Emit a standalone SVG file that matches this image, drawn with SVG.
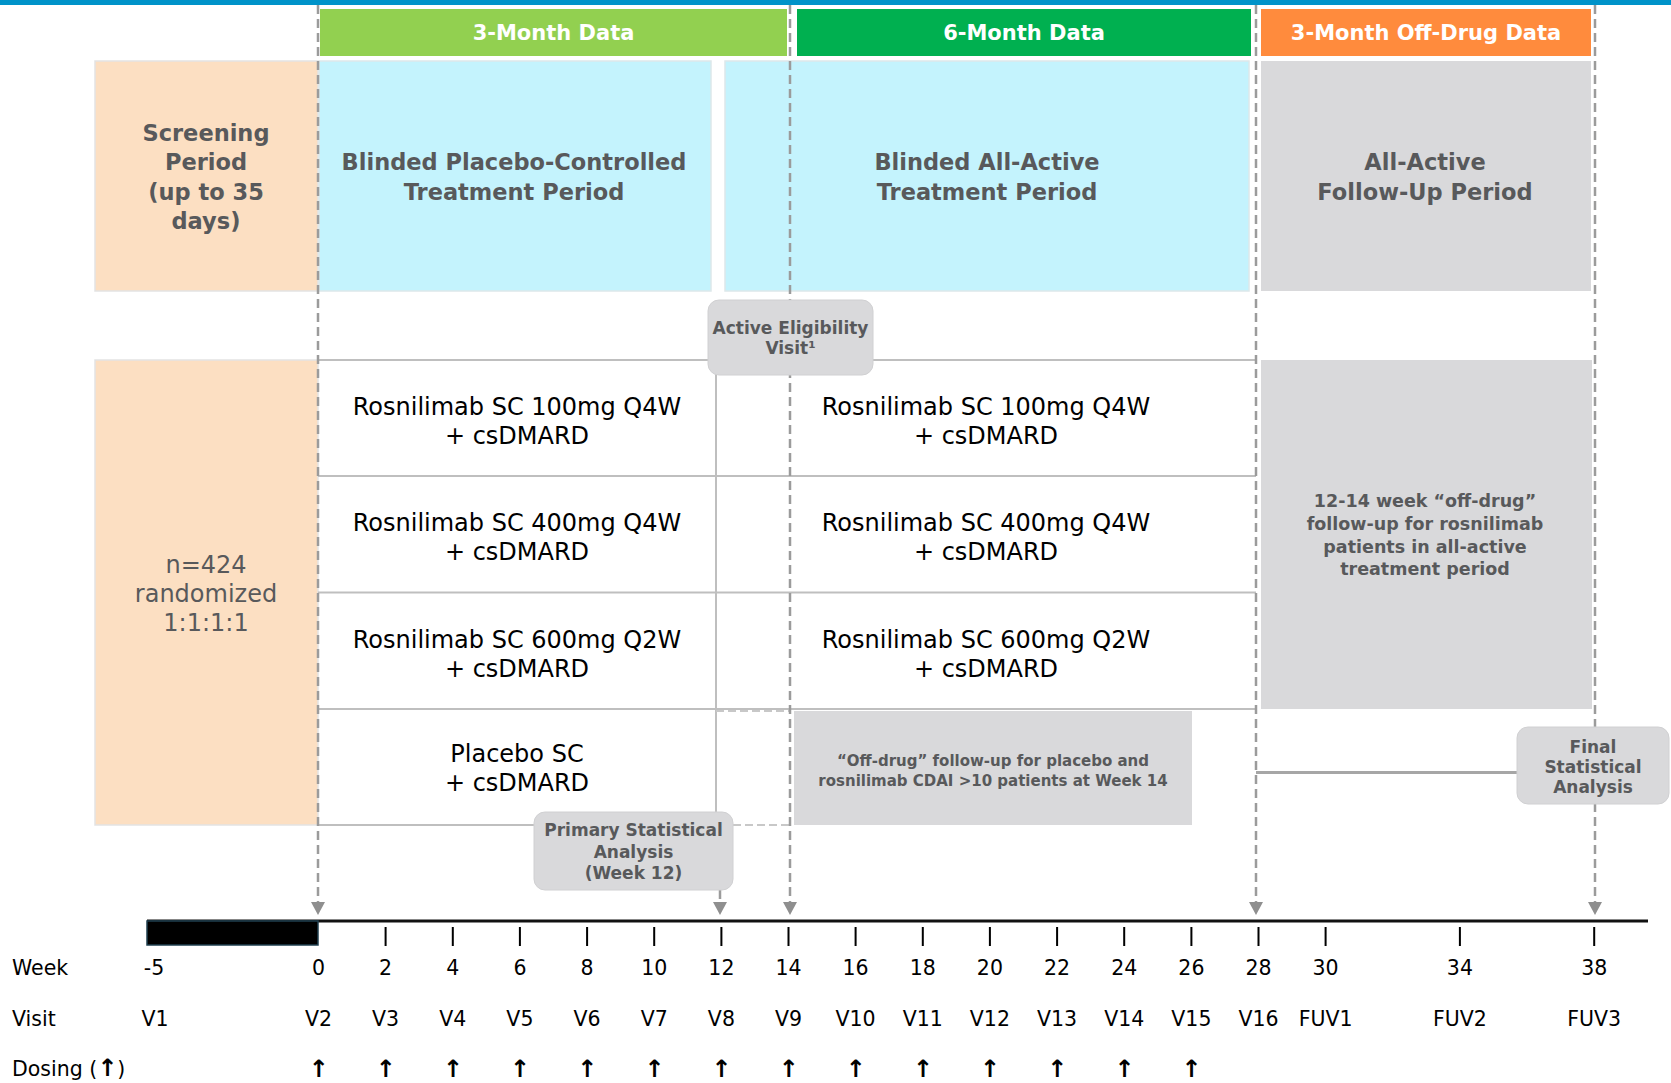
<svg xmlns="http://www.w3.org/2000/svg" width="1671" height="1083" viewBox="0 0 1671 1083">
<style>
text{font-family:"DejaVu Sans",Verdana,sans-serif}
.hdr{font-weight:bold;font-size:21px;fill:#fff;text-anchor:middle}
.per{font-weight:bold;font-size:22.5px;fill:#58595B;text-anchor:middle}
.arm{font-size:24px;fill:#000;text-anchor:middle}
.nrand{font-size:24px;fill:#58595B;text-anchor:middle}
.call{font-weight:bold;font-size:17px;fill:#58595B;text-anchor:middle}
.off{font-weight:bold;font-size:15px;fill:#58595B;text-anchor:middle}
.tl{font-size:20.5px;fill:#000}
.tc{text-anchor:middle}
.dose{font-size:24px;font-weight:bold;fill:#000}
.dash{stroke:#9B9B9B;stroke-width:2.5;stroke-dasharray:9 5;fill:none}
.row{stroke:#BFBFBF;stroke-width:2;fill:none}
.tick{stroke:#000;stroke-width:2}
.peach{fill:#FCDFC2;stroke:#E3E3E3;stroke-width:1.5}
.cyan{fill:#C4F3FD;stroke:#DDE8EA;stroke-width:1.5}
.grey{fill:#D9D9DB}
.callbox{fill:#D9D9DB;stroke:#D0D0D2;stroke-width:1}
</style>
<defs>
<marker id="tri" markerUnits="userSpaceOnUse" viewBox="0 0 14 13" refX="7" refY="0" markerWidth="14" markerHeight="13" orient="0">
<path d="M0,0 L14,0 L7,13 Z" fill="#8F8F8F"/>
</marker>
</defs>
<rect x="0" y="0" width="1671" height="5" fill="#0093C9"/>

<g id="hdr-3m"><rect x="320" y="9" width="467" height="47" fill="#92D050"/><text class="hdr" x="553.5" y="40">3-Month Data</text></g>
<g id="hdr-6m"><rect x="797" y="9" width="454" height="47" fill="#00B050"/><text class="hdr" x="1024" y="40">6-Month Data</text></g>
<g id="hdr-off"><rect x="1261" y="9" width="330" height="47" fill="#FF8B3D"/><text class="hdr" x="1426" y="40">3-Month Off-Drug Data</text></g>

<g id="screening"><rect class="peach" x="95" y="61" width="223" height="230"/>
<text class="per" x="206"><tspan x="206" y="141">Screening</tspan><tspan x="206" y="170">Period</tspan><tspan x="206" y="200">(up to 35</tspan><tspan x="206" y="229">days)</tspan></text></g>
<g id="blinded-pc"><rect class="cyan" x="319" y="61" width="392" height="230"/>
<text class="per"><tspan x="514" y="170">Blinded Placebo-Controlled</tspan><tspan x="514" y="200">Treatment Period</tspan></text></g>
<g id="blinded-aa"><rect class="cyan" x="725" y="61" width="524" height="230"/>
<text class="per"><tspan x="987" y="170">Blinded All-Active</tspan><tspan x="987" y="200">Treatment Period</tspan></text></g>
<g id="followup"><rect class="grey" x="1261" y="61" width="330" height="230"/>
<text class="per"><tspan x="1425" y="170">All-Active</tspan><tspan x="1425" y="200">Follow-Up Period</tspan></text></g>

<g id="randomized"><rect class="peach" x="95" y="360" width="223" height="465"/>
<text class="nrand"><tspan x="206" y="573">n=424</tspan><tspan x="206" y="602">randomized</tspan><tspan x="206" y="631">1:1:1:1</tspan></text></g>

<g id="grid">
<path class="row" d="M318,360 H1256 M318,476 H1256 M318,592.5 H1256 M318,709 H1256 M318,825 H540 M716,360 V812"/>
<path d="M716,711 H790 M733,825 H790" stroke="#C8C8C8" stroke-width="2" stroke-dasharray="8 4" fill="none"/>
</g>

<g id="arm-100-a"><text class="arm"><tspan x="517" y="415">Rosnilimab SC 100mg Q4W</tspan><tspan x="517" y="444">+ csDMARD</tspan></text></g>
<g id="arm-400-a"><text class="arm"><tspan x="517" y="531">Rosnilimab SC 400mg Q4W</tspan><tspan x="517" y="560">+ csDMARD</tspan></text></g>
<g id="arm-600-a"><text class="arm"><tspan x="517" y="647.5">Rosnilimab SC 600mg Q2W</tspan><tspan x="517" y="676.5">+ csDMARD</tspan></text></g>
<g id="arm-pbo"><text class="arm"><tspan x="517" y="762">Placebo SC</tspan><tspan x="517" y="791">+ csDMARD</tspan></text></g>
<g id="arm-100-b"><text class="arm"><tspan x="986" y="415">Rosnilimab SC 100mg Q4W</tspan><tspan x="986" y="444">+ csDMARD</tspan></text></g>
<g id="arm-400-b"><text class="arm"><tspan x="986" y="531">Rosnilimab SC 400mg Q4W</tspan><tspan x="986" y="560">+ csDMARD</tspan></text></g>
<g id="arm-600-b"><text class="arm"><tspan x="986" y="647.5">Rosnilimab SC 600mg Q2W</tspan><tspan x="986" y="676.5">+ csDMARD</tspan></text></g>

<g id="offdrug-box"><rect class="grey" x="794" y="711" width="398" height="114"/>
<text class="off"><tspan x="993" y="765.5">“Off-drug” follow-up for placebo and</tspan><tspan x="993" y="785.5">rosnilimab CDAI &gt;10 patients at Week 14</tspan></text></g>
<g id="offdrug-aa"><rect class="grey" x="1261" y="360" width="331" height="349"/>
<text class="call" style="font-size:17.5px"><tspan x="1425" y="507">12-14 week “off-drug”</tspan><tspan x="1425" y="530">follow-up for rosnilimab</tspan><tspan x="1425" y="552.5">patients in all-active</tspan><tspan x="1425" y="575">treatment period</tspan></text></g>

<g id="connectors">
<line class="dash" x1="318" y1="5" x2="318" y2="902" marker-end="url(#tri)"/>
<line class="dash" x1="790" y1="5" x2="790" y2="902" marker-end="url(#tri)"/>
<line class="dash" x1="1256" y1="5" x2="1256" y2="902" marker-end="url(#tri)"/>
<line class="dash" x1="1595" y1="5" x2="1595" y2="902" marker-end="url(#tri)"/>
<line class="dash" x1="720" y1="890" x2="720" y2="902" marker-end="url(#tri)"/>
<line x1="1256" y1="772.5" x2="1518" y2="772.5" stroke="#A6A6A6" stroke-width="3"/>
</g>

<g id="active-elig"><rect class="callbox" x="708" y="300" width="165" height="75" rx="11"/>
<text class="call"><tspan x="790.5" y="334">Active Eligibility</tspan><tspan x="790.5" y="354">Visit¹</tspan></text></g>
<g id="primary"><rect class="callbox" x="534" y="812" width="199" height="78" rx="11"/>
<text class="call"><tspan x="633.5" y="836">Primary Statistical</tspan><tspan x="633.5" y="857.5">Analysis</tspan><tspan x="633.5" y="879">(Week 12)</tspan></text></g>
<g id="final"><rect class="callbox" x="1517" y="727" width="152" height="77" rx="11"/>
<text class="call"><tspan x="1593" y="752.5">Final</tspan><tspan x="1593" y="773">Statistical</tspan><tspan x="1593" y="793">Analysis</tspan></text></g>

<g id="timeline">
<line x1="147" y1="921" x2="1648" y2="921" stroke="#111" stroke-width="3"/>
<rect x="147" y="921" width="171" height="24" fill="#000" stroke="#1F3F4F" stroke-width="1.5"/>
<path class="tick" d="M385.6,927V946 M452.8,927V946 M519.9,927V946 M587.1,927V946 M654.2,927V946 M721.4,927V946 M788.5,927V946 M855.6,927V946 M922.8,927V946 M989.9,927V946 M1057.1,927V946 M1124.2,927V946 M1191.4,927V946 M1258.5,927V946 M1325.6,927V946 M1459.9,927V946 M1594.2,927V946"/>
<text class="tl" x="12" y="975">Week</text>
<text class="tl tc" y="975"><tspan x="154">-5</tspan><tspan x="318.5">0</tspan><tspan x="385.6">2</tspan><tspan x="452.8">4</tspan><tspan x="519.9">6</tspan><tspan x="587.1">8</tspan><tspan x="654.2">10</tspan><tspan x="721.4">12</tspan><tspan x="788.5">14</tspan><tspan x="855.6">16</tspan><tspan x="922.8">18</tspan><tspan x="989.9">20</tspan><tspan x="1057.1">22</tspan><tspan x="1124.2">24</tspan><tspan x="1191.4">26</tspan><tspan x="1258.5">28</tspan><tspan x="1325.6">30</tspan><tspan x="1459.9">34</tspan><tspan x="1594.2">38</tspan></text>
<text class="tl" x="12" y="1026">Visit</text>
<text class="tl tc" y="1026"><tspan x="155">V1</tspan><tspan x="318.5">V2</tspan><tspan x="385.6">V3</tspan><tspan x="452.8">V4</tspan><tspan x="519.9">V5</tspan><tspan x="587.1">V6</tspan><tspan x="654.2">V7</tspan><tspan x="721.4">V8</tspan><tspan x="788.5">V9</tspan><tspan x="855.6">V10</tspan><tspan x="922.8">V11</tspan><tspan x="989.9">V12</tspan><tspan x="1057.1">V13</tspan><tspan x="1124.2">V14</tspan><tspan x="1191.4">V15</tspan><tspan x="1258.5">V16</tspan><tspan x="1325.6">FUV1</tspan><tspan x="1459.9">FUV2</tspan><tspan x="1594.2">FUV3</tspan></text>
<text class="tl" x="12" y="1076">Dosing (<tspan class="dose">↑</tspan>)</text>
<text class="dose tc" y="1077"><tspan x="318.5">↑</tspan><tspan x="385.6">↑</tspan><tspan x="452.8">↑</tspan><tspan x="519.9">↑</tspan><tspan x="587.1">↑</tspan><tspan x="654.2">↑</tspan><tspan x="721.4">↑</tspan><tspan x="788.5">↑</tspan><tspan x="855.6">↑</tspan><tspan x="922.8">↑</tspan><tspan x="989.9">↑</tspan><tspan x="1057.1">↑</tspan><tspan x="1124.2">↑</tspan><tspan x="1191.4">↑</tspan></text>
</g>
</svg>
